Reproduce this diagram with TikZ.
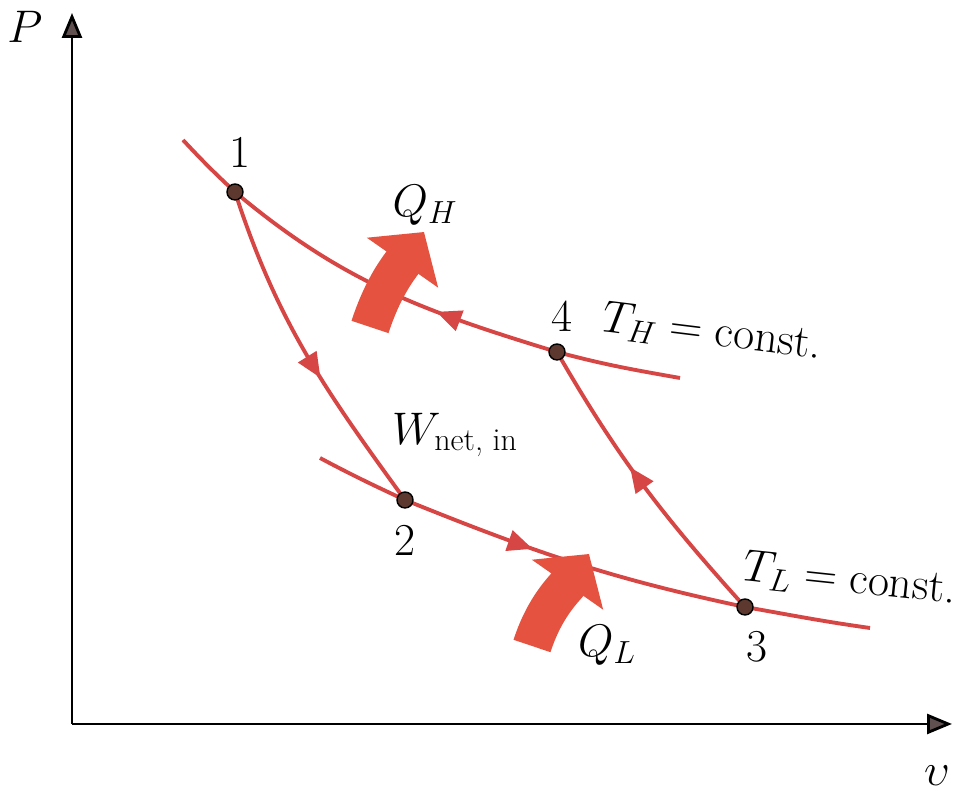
\RequirePackage{fix-cm}
\documentclass[tikz,border=0pt]{standalone}
\usepackage{amsmath}
\usetikzlibrary{arrows.meta,decorations.markings}
\definecolor{cyclered}{RGB}{214,70,68}
\definecolor{heatred}{RGB}{229,82,64}
\definecolor{dotbrown}{RGB}{92,56,46}
\definecolor{tipgray}{RGB}{96,80,80}
\begin{document}
\begin{tikzpicture}[
  x=0.02cm, y=0.02cm,
  font=\fontsize{26}{30}\selectfont,
  axis/.style={draw=black, line width=1.6pt, -{Triangle[length=0.5cm, width=0.4cm, fill=tipgray]}},
  curve/.style={draw=cyclered, line width=2.2pt},
  midarrow/.style={postaction={decorate}, decoration={markings,
    mark=at position #1 with {\arrow[cyclered]{Triangle[length=0.5cm, width=0.42cm]}}}},
  backarrow/.style={postaction={decorate}, decoration={markings,
    mark=at position #1 with {\arrowreversed[cyclered]{Triangle[length=0.5cm, width=0.42cm]}}}},
  heat/.style={draw=heatred, line width=0.78cm, -{Triangle[length=0.75cm, width=1.7cm]}},
  dot/.style={circle, draw=black, fill=dotbrown, line width=0.8pt, inner sep=0pt, minimum size=0.32cm},
  lbl/.style={inner sep=1pt}
]
\useasboundingbox (0,0) rectangle (958,793);

% Axes
\coordinate (origin) at (72,69);
\coordinate (ptop) at (72,780);
\coordinate (vend) at (952,69);
\draw[axis] (origin) -- (ptop);
\draw[axis] (origin) -- (vend);
\node[lbl] (plbl) at (25,766) {$P$};
\node[lbl] (vlbl) at (937,17) {$\upsilon$};

% State points
\coordinate (p1) at (235,601);
\coordinate (p2) at (405,293);
\coordinate (p3) at (745,186);
\coordinate (p4) at (557,441);

% Isotherms
\coordinate (thS) at (183,653);
\coordinate (thE) at (680,415);
\coordinate (tlS) at (320,335);
\coordinate (tlE) at (870,165);
\draw[curve, backarrow=0.55] (thS) to[out=-47,in=137] (p1) to[out=-40,in=163] (p4) to[out=-15,in=170] (thE);
\draw[curve, midarrow=0.40] (tlS) to[out=-28,in=155] (p2) to[out=-22,in=168] (p3) to[out=-10,in=172] (tlE);

% Isentropes
\draw[curve, midarrow=0.58] (p1) to[out=-72,in=126] (p2);
\draw[curve, midarrow=0.57] (p3) to[out=132,in=-60] (p4);

% Heat transfer
\coordinate (qhS) at (370,466);
\coordinate (qhE) at (424,561);
\coordinate (qlS) at (532,147);
\coordinate (qlE) at (589,239);
\draw[heat] (qhS) to[out=72,in=235] (qhE);
\draw[heat] (qlS) to[out=72,in=235] (qlE);

% Dots and labels
\foreach \p in {1,2,3,4}
  \node[dot] (dot\p) at (p\p) {};
\node[lbl] (n1) at (240,641) {1};
\node[lbl] (n2) at (405,253) {2};
\node[lbl] (n3) at (757,146) {3};
\node[lbl] (n4) at (562,477) {4};
\node[lbl] (qh) at (425,588) {$Q_H$};
\node[lbl] (ql) at (607,148) {$Q_L$};
\node[lbl] (wnet) at (455,358) {$W_{\text{net, in}}$};
\node[lbl, rotate=-7] (thlbl) at (712,460) {$T_H = \text{const.}$};
\node[lbl, rotate=-6] (tllbl) at (850,213) {$T_L = \text{const.}$};
\end{tikzpicture}
\end{document}
